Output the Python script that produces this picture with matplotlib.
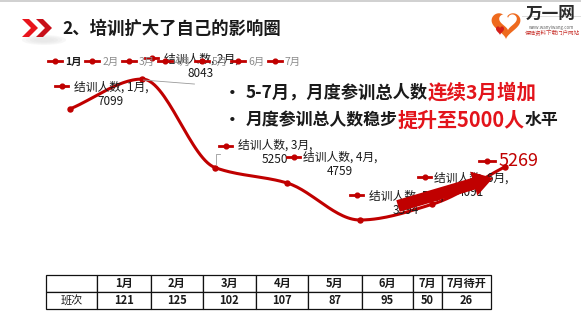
import numpy as np
import matplotlib.pyplot as plt
from matplotlib.lines import Line2D
from matplotlib.patches import Polygon, FancyArrow, Ellipse

plt.rcParams['font.family'] = ['Noto Sans CJK SC', 'DejaVu Sans']

# monthly trainee totals
months = ['1月', '2月', '3月', '4月', '5月', '6月', '7月']
trainees = [7099, 8043, 5250, 4759, 3594, 4091, 5269]

# class counts table
table_header = ['', '1月', '2月', '3月', '4月', '5月', '6月', '7月', '7月待开']
table_row_name = '班次'
class_counts = ['121', '125', '102', '107', '87', '95', '50', '26']

LINE_RED = '#C00000'
TEXT_RED = '#E3141B'
W, H = 581, 333


def smooth_curve(xs, ys, steps=30):
    """Monotone cubic (Fritsch-Carlson) path through the points, flat at peaks and dips."""
    xs = np.asarray(xs, float)
    ys = np.asarray(ys, float)
    h = np.diff(xs)
    d = np.diff(ys) / h
    m = np.zeros_like(ys)
    m[0], m[-1] = d[0], d[-1]
    for i in range(1, len(ys) - 1):
        if d[i - 1] * d[i] > 0:
            m[i] = 2 / (1 / d[i - 1] + 1 / d[i])
    out_x, out_y = [], []
    t = np.linspace(0, 1, steps, endpoint=False)
    for i in range(len(ys) - 1):
        h00 = 2 * t ** 3 - 3 * t ** 2 + 1
        h10 = t ** 3 - 2 * t ** 2 + t
        h01 = -2 * t ** 3 + 3 * t ** 2
        h11 = t ** 3 - t ** 2
        out_x.append(xs[i] + t * h[i])
        out_y.append(h00 * ys[i] + h10 * h[i] * m[i] + h01 * ys[i + 1] + h11 * h[i] * m[i + 1])
    out_x.append(xs[-1:])
    out_y.append(ys[-1:])
    return np.concatenate(out_x), np.concatenate(out_y)


fig = plt.figure(figsize=(W / 100, H / 100), dpi=100)
fig.patch.set_facecolor('white')

# --- line chart ---
ax = fig.add_axes([0.0581, 0.1877, 0.873, 0.666])
ax.set_xlim(-0.5, 6.5)
ax.set_ylim(2000, 9000)
ax.axis('off')

x = np.arange(len(months))
sx, sy = smooth_curve(x, trainees)
ax.plot(sx, sy, color=LINE_RED, lw=2.2, solid_capstyle='round', zorder=3)
ax.plot(x, trainees, 'o', color=LINE_RED, ms=3.6, zorder=4)

# label block offsets (pixels, y up) and legend-key offsets (pixels, y down)
label_offsets = [(41, 15), (58.5, 12.5), (60, 15), (52.5, 18.6), (46, 17), (38.5, 19.3), (14, 6)]
key_offsets = [(-8, -23), (9.5, -21), (11, -21.5), (6.5, -26), (-3, -25), (-7.5, -27.3), (-18, -6)]

for i, (m, v) in enumerate(zip(months, trainees)):
    if i == len(months) - 1:
        ax.annotate(f'{v}', xy=(i, v), xytext=label_offsets[i], textcoords='offset pixels',
                    ha='center', va='center', fontsize=13, color=LINE_RED, zorder=5)
    else:
        ax.annotate(f'结训人数, {m},\n{v}', xy=(i, v), xytext=label_offsets[i],
                    textcoords='offset pixels', ha='center', va='center',
                    multialignment='center', linespacing=1.15, fontsize=8.5,
                    color='#1a1a1a', zorder=5)

# --- overlay in pixel coordinates ---
ov = fig.add_axes([0, 0, 1, 1])
ov.set_xlim(0, W)
ov.set_ylim(H, 0)
ov.axis('off')


def to_px(i, v):
    dx, dy = ax.transData.transform((i, v))
    return dx, H - dy


# small legend keys next to each data label
for i, v in enumerate(trainees):
    px, py = to_px(i, v)
    kx, ky = px + key_offsets[i][0], py + key_offsets[i][1]
    half = 8 if i == len(trainees) - 1 else 6.5
    ov.plot([kx - half, kx + half], [ky, ky], color=LINE_RED, lw=2, zorder=2)
    ov.plot(kx, ky, 'o', color=LINE_RED, ms=3.4, zorder=2)

# leader lines
p2 = to_px(1, trainees[1])
ov.plot([p2[0] + 1, p2[0] + 52], [p2[1] + 1, p2[1] + 5], color='#9a9a9a', lw=0.6)
p3 = to_px(2, trainees[2])
ov.plot([p3[0] + 1, p3[0] + 1, p3[0] + 5], [p3[1] - 4, p3[1] - 14, p3[1] - 14],
        color='#9a9a9a', lw=0.6)

# upward arrow over May-July
ov.add_patch(FancyArrow(398, 206, 95, -28, width=12, head_width=25, head_length=20,
                        length_includes_head=True, color=LINE_RED, lw=0, zorder=6))

# top legend
handles = [Line2D([], [], color=LINE_RED, lw=2, marker='o', ms=3.4) for _ in months]
leg = fig.legend(handles, months, ncol=7, loc='center', bbox_to_anchor=(0.3003, 0.8138),
                 frameon=False, fontsize=7.5, handlelength=1.35, handletextpad=0.3,
                 columnspacing=0.3, borderpad=0, borderaxespad=0)
for k, txt in enumerate(leg.get_texts()):
    if k == 0:
        txt.set_fontweight('bold')
        txt.set_color('#1a1a1a')
    else:
        txt.set_color('#8c8c8c')

# --- header ---
ov.plot([0, W], [0.8, 0.8], color='#c8c8c8', lw=1.2)
for k, a in enumerate([0.05, 0.04, 0.03, 0.02]):
    ov.add_patch(Ellipse((44, 40), 44 - 8 * k, 10 - 2 * k, color='#707070', alpha=a, lw=0))


def chevron(x0, color):
    w, top, bot, t = 16, 19, 37, 7
    mid = (top + bot) / 2
    return Polygon([(x0, top), (x0 + t, top), (x0 + w, mid), (x0 + t, bot),
                    (x0, bot), (x0 + w - t, mid)], closed=True, color=color, lw=0)


ov.add_patch(chevron(22, '#E8141C'))
ov.add_patch(chevron(36, '#C8101A'))
ov.text(62, 29, '2、培训扩大了自己的影响圈', fontsize=12.5, fontweight='bold',
        color='#1a1a1a', ha='left', va='center')

# logo
tt = np.linspace(0, 2 * np.pi, 200)
hx = 16 * np.sin(tt) ** 3
hy = 13 * np.cos(tt) - 5 * np.cos(2 * tt) - 2 * np.cos(3 * tt) - np.cos(4 * tt)
ov.fill(506 + hx * 0.9, 24 - hy * 0.9, color='#EE6A1E', lw=0)
ov.fill(508 + hx * 0.55, 21 - hy * 0.55, color='white', lw=0)
ov.fill(500 + hx * 0.25, 30 - hy * 0.3, color='#D4201A', lw=0)
ov.plot([522, W], [16, 16], color='#d8d8d8', lw=0.6)
ov.text(551, 14, '万一网', fontsize=12, fontweight='bold', color='#2a2a2a',
        ha='center', va='center')
ov.text(552, 27, 'www.wanyiwang.com', fontsize=3.2, color='#666666', ha='center', va='center')
ov.text(552, 33, '保险资料下载门户网站', fontsize=4, color='#C8302A', ha='center', va='center')

# --- bullet notes ---
ov.text(232, 93, '•', fontsize=12, fontweight='bold', color='#1a1a1a', ha='center', va='center')
ov.text(232, 120, '•', fontsize=12, fontweight='bold', color='#1a1a1a', ha='center', va='center')


def colored_line(x0, y0, parts):
    prev = ov.text(x0, y0, parts[0][0], fontsize=parts[0][2], color=parts[0][1],
                   fontweight='bold', ha='left', va='center')
    for s, c, fs in parts[1:]:
        prev = ov.annotate(s, xy=(1, 0.5), xycoords=prev, fontsize=fs, color=c,
                           fontweight='bold', ha='left', va='center')


colored_line(246, 93, [('5-7月，月度参训总人数', '#1a1a1a', 12.4),
                       ('连续3月增加', TEXT_RED, 14)])
colored_line(246, 120, [('月度参训总人数稳步', '#1a1a1a', 12.2),
                        ('提升至5000人', TEXT_RED, 14.4),
                        ('水平', '#1a1a1a', 12.2)])

# --- table ---
col_edges = [45.7, 97.3, 151, 202.7, 256, 308.3, 361.7, 413.3, 441.7, 491]
col_widths = list(np.diff(col_edges))
tbl = ov.table(cellText=[table_header, [table_row_name] + class_counts],
               cellLoc='center', colWidths=col_widths,
               bbox=[45.7 / W, 1 - 309 / H, (491 - 45.7) / W, 34 / H])
tbl.auto_set_font_size(False)
for (r, c), cell in tbl.get_celld().items():
    cell.set_linewidth(0.9)
    cell.set_edgecolor('#111111')
    cell.get_text().set_fontsize(8)
    cell.get_text().set_color('#1a1a1a')
    if not (r == 1 and c == 0):
        cell.get_text().set_fontweight('bold')

fig.savefig('out.png', dpi=100)
